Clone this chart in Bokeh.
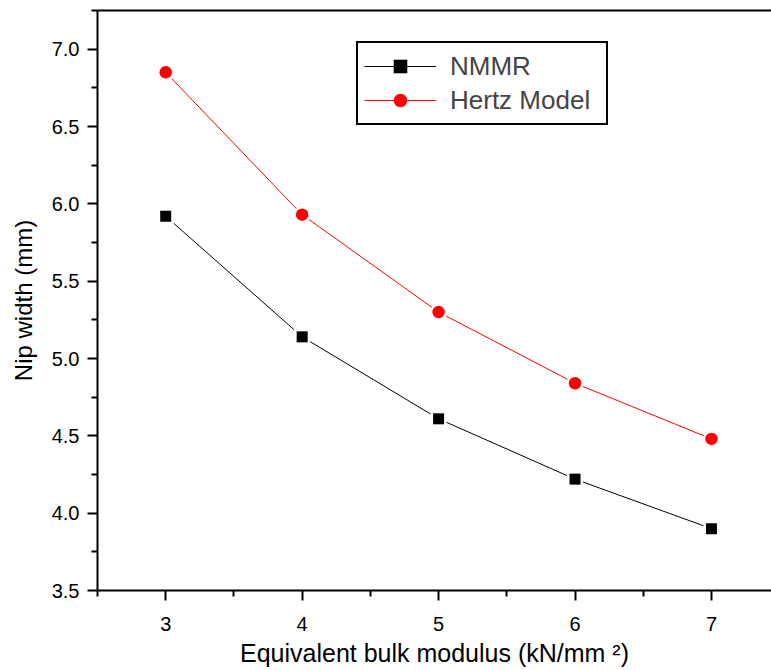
from bokeh.plotting import figure
from bokeh.models import (Range1d, FixedTicker, LinearAxis, Legend, LegendItem)
from bokeh.embed import file_html
from bokeh.resources import INLINE

# ---- data ----
modulus = [3, 4, 5, 6, 7]
nmmr = [5.92, 5.14, 4.61, 4.22, 3.90]
hertz = [6.85, 5.93, 5.30, 4.84, 4.48]
x_ticks = [3, 4, 5, 6, 7]
x_minor = [2.5, 3.5, 4.5, 5.5, 6.5, 7.5]
y_ticks = [3.5, 4.0, 4.5, 5.0, 5.5, 6.0, 6.5, 7.0]
y_minor = [3.75, 4.25, 4.75, 5.25, 5.75, 6.25, 6.75, 7.25]
y_labels = ["3.5", "4.0", "4.5", "5.0", "5.5", "6.0", "6.5", "7.0"]
x_title = "Equivalent bulk modulus (kN/mm \u00b2)"
y_title = "Nip width (mm)"
series_names = ["NMMR", "Hertz Model"]

FONT = "Liberation Sans"

p = figure(width=771, height=670, output_backend="svg", toolbar_location=None,
           x_range=Range1d(2.5, 7.44), y_range=Range1d(3.5, 7.25),
           min_border_left=97, min_border_right=0, min_border_top=10,
           min_border_bottom=80, x_axis_location="below", y_axis_location="left")
p.outline_line_color = None
p.grid.visible = False
p.background_fill_color = "white"
p.border_fill_color = "white"

# axes styling
for ax in [p.xaxis[0], p.yaxis[0]]:
    ax.axis_line_width = 2
    ax.axis_line_color = "black"
    ax.major_tick_line_width = 2
    ax.minor_tick_line_width = 2
    ax.major_tick_in = 0
    ax.minor_tick_in = 0
    ax.major_tick_out = 10
    ax.minor_tick_out = 6
    ax.major_label_text_font = FONT
    ax.major_label_text_font_size = "20px"
    ax.major_label_text_color = "black"
    ax.axis_label_text_font = FONT
    ax.axis_label_text_font_style = "normal"
    ax.axis_label_text_color = "black"

p.xaxis[0].ticker = FixedTicker(ticks=x_ticks, minor_ticks=x_minor)
p.yaxis[0].ticker = FixedTicker(ticks=y_ticks, minor_ticks=y_minor)
p.yaxis[0].major_label_overrides = {t: l for t, l in zip(y_ticks, y_labels)}
p.xaxis[0].axis_label = x_title
p.yaxis[0].axis_label = y_title
p.xaxis[0].axis_label_text_font_size = "25px"
p.yaxis[0].axis_label_text_font_size = "24px"
p.xaxis[0].major_label_standoff = 16
p.yaxis[0].major_label_standoff = 8
p.xaxis[0].axis_label_standoff = 5
p.yaxis[0].axis_label_standoff = 12

# top border line
top = LinearAxis(ticker=FixedTicker(ticks=[]), major_tick_out=0, minor_tick_out=0,
                 major_label_text_font_size="0px", axis_line_width=2)
p.add_layout(top, "above")

# series: line, white halo behind marker (gap like the original), marker
l1 = p.line(modulus, nmmr, line_color="black", line_width=1)
p.scatter(modulus, nmmr, marker="square", size=16, fill_color="white", line_color=None)
m1 = p.scatter(modulus, nmmr, marker="square", size=11, fill_color="black", line_color=None)
l2 = p.line(modulus, hertz, line_color="red", line_width=1)
p.scatter(modulus, hertz, marker="circle", size=17, fill_color="white", line_color=None)
m2 = p.scatter(modulus, hertz, marker="circle", size=12.5, fill_color="red", line_color=None)

legend = Legend(items=[LegendItem(label=series_names[0], renderers=[l1, m1]),
                       LegendItem(label=series_names[1], renderers=[l2, m2])],
                location=(259, 465))
legend.border_line_color = "black"
legend.border_line_alpha = 1
legend.border_line_width = 2
legend.label_text_font = FONT
legend.label_text_font_size = "26px"
legend.glyph_width = 72
legend.glyph_height = 34
legend.label_height = 30
legend.label_standoff = 14
legend.label_width = 150
legend.padding = 6
legend.spacing = 0
legend.margin = 0
legend.background_fill_alpha = 1
p.add_layout(legend, "center")

open("out.html", "w").write(file_html(p, INLINE))
